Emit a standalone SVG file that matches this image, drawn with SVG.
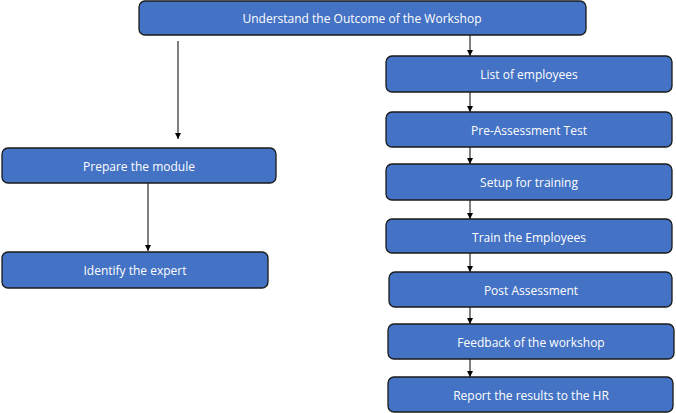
<svg xmlns="http://www.w3.org/2000/svg" width="676" height="413" viewBox="0 0 676 413">
<defs>
<style>
.box{fill:#4472C4;stroke:#1a1a1a;stroke-width:1.3}
.lbl{font-family:"Open Sans","Liberation Sans",sans-serif;font-size:12px;fill:#ffffff;text-anchor:middle;dominant-baseline:central}
.con{stroke:#000;stroke-width:1;fill:none;marker-end:url(#ah)}
</style>
<marker id="ah" viewBox="0 0 8 8" refX="8" refY="4" markerWidth="6" markerHeight="6" markerUnits="userSpaceOnUse" orient="auto">
<path d="M0,0 L8,4 L0,8 z" fill="#000"/>
</marker>
</defs>
<g id="connectors">
<line class="con" x1="178" y1="41" x2="178" y2="139"/>
<line class="con" x1="470" y1="35" x2="470" y2="56"/>
<line class="con" x1="148" y1="183" x2="148" y2="251"/>
<line class="con" x1="470" y1="92" x2="470" y2="112"/>
<line class="con" x1="470" y1="147" x2="470" y2="164"/>
<line class="con" x1="470" y1="200" x2="470" y2="219"/>
<line class="con" x1="470" y1="253" x2="470" y2="272"/>
<line class="con" x1="470" y1="307" x2="470" y2="324"/>
<line class="con" x1="470" y1="359" x2="470" y2="377"/>
</g>
<g id="n-understand"><rect class="box" x="139" y="1" width="447" height="34" rx="6"/><text class="lbl" x="362" y="18.5">Understand the Outcome of the Workshop</text></g>
<g id="n-prepare"><rect class="box" x="2" y="148" width="274" height="35" rx="6"/><text class="lbl" x="139" y="166.5">Prepare the module</text></g>
<g id="n-identify"><rect class="box" x="2" y="252" width="266" height="36" rx="6"/><text class="lbl" x="135" y="270.5">Identify the expert</text></g>
<g id="n-list"><rect class="box" x="386" y="56" width="286" height="36" rx="6"/><text class="lbl" x="529" y="74.5">List of employees</text></g>
<g id="n-pre"><rect class="box" x="386" y="112" width="286" height="35" rx="6"/><text class="lbl" x="529" y="130">Pre-Assessment Test</text></g>
<g id="n-setup"><rect class="box" x="386" y="164" width="286" height="36" rx="6"/><text class="lbl" x="529" y="182.5">Setup for training</text></g>
<g id="n-train"><rect class="box" x="386" y="219" width="286" height="34" rx="6"/><text class="lbl" x="529" y="237">Train the Employees</text></g>
<g id="n-post"><rect class="box" x="389" y="272" width="283" height="35" rx="6"/><text class="lbl" x="531" y="290">Post Assessment</text></g>
<g id="n-feedback"><rect class="box" x="388" y="324" width="286" height="35" rx="6"/><text class="lbl" x="531" y="342.5">Feedback of the workshop</text></g>
<g id="n-report"><rect class="box" x="388" y="377" width="285" height="35" rx="6"/><text class="lbl" x="531" y="395.5">Report the results to the HR</text></g>
</svg>
